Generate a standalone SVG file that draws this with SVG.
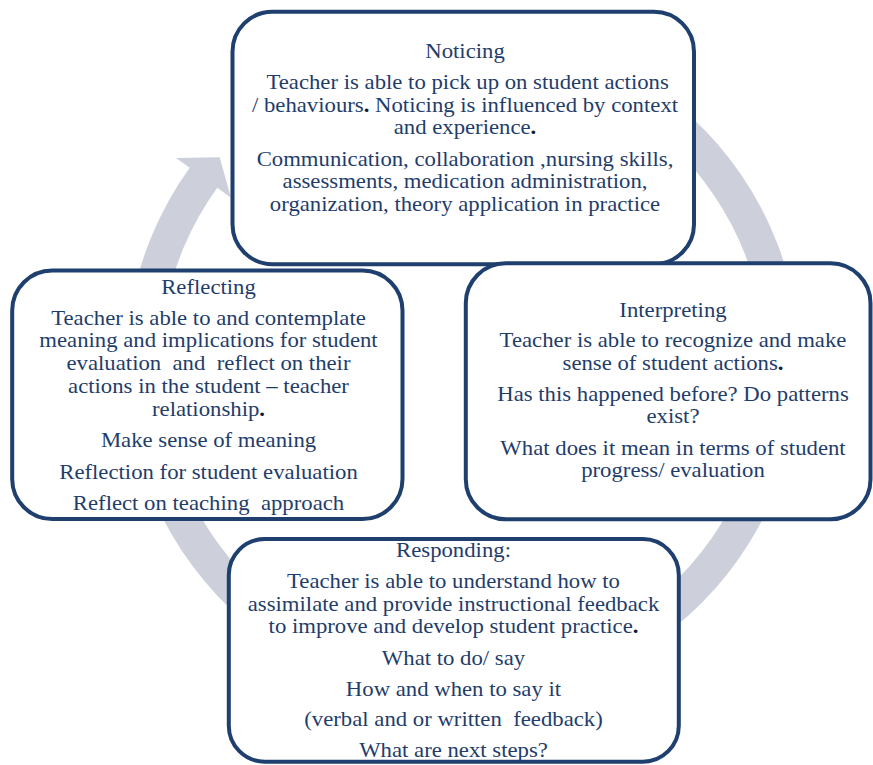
<svg xmlns="http://www.w3.org/2000/svg" width="873" height="765" viewBox="0 0 873 765">
  <style>
    .box { fill: #ffffff; stroke: #1f3f6e; stroke-width: 4; }
    .cycle { fill: #cdd0da; stroke: none; }
    text { font-family: "Liberation Serif", "Times New Roman", serif; font-size: 20.3px; fill: #1f3d6b; text-anchor: middle; white-space: pre; }
    .dot { fill: #0e1c33; font-weight: bold; }
  </style>

  <rect width="873" height="765" fill="#ffffff"/>

  <!-- clockwise cycle arrow behind the four stages -->
  <g id="connectors">
    <path class="cycle" d="M 404.48 33.12 A 337 337 0 1 1 189.67 167.87 L 175.88 157.92 L 219.67 157.18 L 231.04 197.70 L 217.25 187.76 A 303 303 0 1 0 410.38 66.60 Z"/>
  </g>

  <g id="noticing">
    <rect class="box" x="232.5" y="11.7" width="461.5" height="252.5" rx="40" ry="40"/>
    <g transform="translate(465 0) scale(1.12 1)">
      <text x="0" y="58.5">Noticing</text>
      <text x="0" y="89.5"> Teacher is able to pick up on student actions</text>
      <text x="0" y="112">/ behaviours<tspan class="dot">.</tspan> Noticing is influenced by context</text>
      <text x="0" y="134.5">and experience<tspan class="dot">.</tspan></text>
      <text x="0" y="166">Communication, collaboration ,nursing skills,</text>
      <text x="0" y="188.5">assessments, medication administration,</text>
      <text x="0" y="211">organization, theory application in practice</text>
    </g>
  </g>

  <g id="reflecting">
    <rect class="box" x="12.2" y="270.5" width="390.3" height="248.5" rx="40" ry="40"/>
    <g transform="translate(208.5 0) scale(1.12 1)">
      <text x="0" y="294">Reflecting</text>
      <text x="0" y="325">Teacher is able to and contemplate</text>
      <text x="0" y="347.5">meaning and implications for student</text>
      <text x="0" y="370.5">evaluation  and  reflect on their</text>
      <text x="0" y="393.5">actions in the student – teacher</text>
      <text x="0" y="416">relationship<tspan class="dot">.</tspan></text>
      <text x="0" y="447.5">Make sense of meaning</text>
      <text x="0" y="479.5">Reflection for student evaluation</text>
      <text x="0" y="510">Reflect on teaching  approach</text>
    </g>
  </g>

  <g id="interpreting">
    <rect class="box" x="465.8" y="263.3" width="404.7" height="255.9" rx="40" ry="40"/>
    <g transform="translate(673 0) scale(1.12 1)">
      <text x="0" y="317">Interpreting</text>
      <text x="0" y="347.5">Teacher is able to recognize and make</text>
      <text x="0" y="370">sense of student actions<tspan class="dot">.</tspan></text>
      <text x="0" y="401.5">Has this happened before? Do patterns</text>
      <text x="0" y="423.5">exist?</text>
      <text x="0" y="455">What does it mean in terms of student</text>
      <text x="0" y="477.5">progress/ evaluation</text>
    </g>
  </g>

  <g id="responding">
    <rect class="box" x="228.8" y="539" width="450" height="222.7" rx="36" ry="36"/>
    <g transform="translate(453.5 0) scale(1.12 1)">
      <text x="0" y="557.5">Responding:</text>
      <text x="0" y="588.5">Teacher is able to understand how to</text>
      <text x="0" y="611">assimilate and provide instructional feedback</text>
      <text x="0" y="633.5">to improve and develop student practice<tspan class="dot">.</tspan></text>
      <text x="0" y="665.5">What to do/ say</text>
      <text x="0" y="696">How and when to say it</text>
      <text x="0" y="726.5">(verbal and or written  feedback)</text>
      <text x="0" y="757.5">What are next steps?</text>
    </g>
  </g>
</svg>
